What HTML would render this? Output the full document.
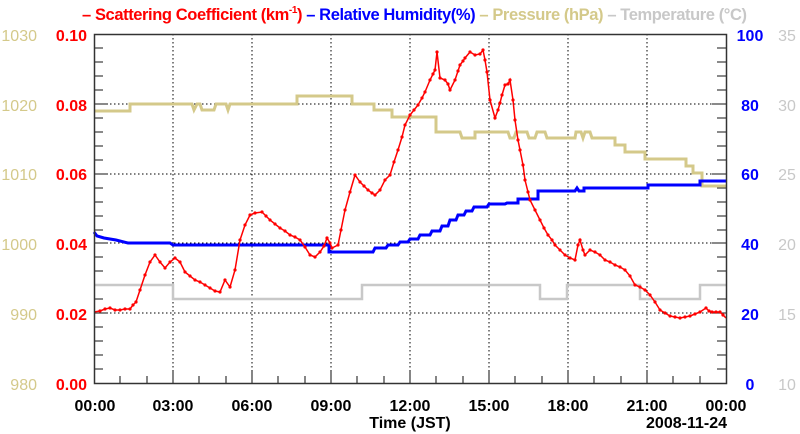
<!DOCTYPE html>
<html><head><meta charset="utf-8"><style>
html,body{margin:0;padding:0;background:#fff;}
svg{display:block;font-family:"Liberation Sans",Arial,sans-serif;}
</style></head><body>
<svg width="800" height="434" viewBox="0 0 800 434" xmlns="http://www.w3.org/2000/svg">
<defs><marker id="d" markerWidth="4" markerHeight="4" refX="2" refY="2" markerUnits="userSpaceOnUse"><circle cx="2" cy="2" r="1.6" fill="#f00"/></marker></defs>
<text y="20" font-size="16.5" font-weight="bold" x="82" textLength="665"><tspan fill="#f00">– Scattering Coefficient (km</tspan><tspan fill="#f00" font-size="10" dy="-7">-1</tspan><tspan fill="#f00" dy="7">)</tspan><tspan fill="#00f"> – Relative Humidity(%)</tspan><tspan fill="#d4c98a"> – Pressure (hPa)</tspan><tspan fill="#c8c8c8"> – Temperature (°C)</tspan></text>
<g stroke="#000" stroke-width="1" stroke-dasharray="1.5,2.5" fill="none">
<line x1="173" y1="34" x2="173" y2="383"/><line x1="252" y1="34" x2="252" y2="383"/><line x1="331" y1="34" x2="331" y2="383"/><line x1="410" y1="34" x2="410" y2="383"/><line x1="489" y1="34" x2="489" y2="383"/><line x1="568" y1="34" x2="568" y2="383"/><line x1="647" y1="34" x2="647" y2="383"/>
<line x1="94" y1="104" x2="726" y2="104"/><line x1="94" y1="174" x2="726" y2="174"/><line x1="94" y1="243" x2="726" y2="243"/><line x1="94" y1="313" x2="726" y2="313"/>
</g>
<g stroke="#444" stroke-width="1.3">
<path d="M94 48h9M94 62h9M94 76h9M94 90h9M94 118h9M94 132h9M94 146h9M94 160h9M94 188h9M94 202h9M94 216h9M94 230h9M94 257h9M94 271h9M94 285h9M94 299h9M94 327h9M94 341h9M94 355h9M94 369h9"/>
<path d="M94 104h14M94 174h14M94 243h14M94 313h14"/>
<path d="M726 48h-9M726 62h-9M726 76h-9M726 90h-9M726 118h-9M726 132h-9M726 146h-9M726 160h-9M726 188h-9M726 202h-9M726 216h-9M726 230h-9M726 257h-9M726 271h-9M726 285h-9M726 299h-9M726 327h-9M726 341h-9M726 355h-9M726 369h-9"/>
<path d="M726 104h-14M726 174h-14M726 243h-14M726 313h-14"/>
<path d="M120 383v-7M147 383v-7M199 383v-7M226 383v-7M278 383v-7M305 383v-7M357 383v-7M384 383v-7M436 383v-7M463 383v-7M515 383v-7M542 383v-7M594 383v-7M621 383v-7M673 383v-7M700 383v-7"/>
<path d="M173 383v-12M252 383v-12M331 383v-12M410 383v-12M489 383v-12M568 383v-12M647 383v-12"/>
</g>
<polyline fill="none" stroke="#c8c8c8" stroke-width="2.5" points="94,285 173,285 173,299 362,299 362,285 540,285 540,299 567,299 567,285 640,285 640,299 700,299 700,285 726,285"/>
<polyline fill="none" stroke="#d4c98a" stroke-width="3" points="94,111 130,111 130,104 192,104 194,110 197,104 200,104 202,110 214,110 216,104 226,104 228,110 230,104 297,104 297,96 352,96 352,104 374,104 374,110 392,110 392,117 436,117 436,132 460,132 462,138 475,138 475,132 508,132 510,138 514,138 516,132 527,132 529,138 535,138 537,132 545,132 547,138 575,138 576,132 581,132 583,138 585,132 590,132 592,138 615,138 615,145 625,145 625,152 645,152 645,159 686,159 686,166 693,166 693,173 702,173 702,186 726,186"/>
<polyline fill="none" stroke="#00f" stroke-width="3" points="94,232 97,236 104,238 116,240 128,243 170,243 173,245 329,245 329,252 373,252 375,248 386,248 388,245 398,245 400,242 408,242 410,239 418,239 420,235 430,235 432,231 440,231 442,226 448,226 450,220 456,220 458,215 464,215 466,211 472,211 474,207 487,207 489,204 505,204 507,203 518,203 518,199 538,199 538,191 575,191 577,188 579,191 584,191 584,188 648,188 648,185 700,185 700,181 726,181"/>
<polyline fill="none" stroke="#f00" stroke-width="1.5" marker-mid="url(#d)" points="94,312 100,311 105,309 110,308 115,310 120,310 125,309 130,309 133,305 136,302 140,290 145,275 150,262 155,255 160,262 165,268 170,262 175,258 180,262 185,272 190,276 195,280 200,282 205,285 210,288 215,291 220,292 225,280 230,287 235,270 240,240 245,225 250,215 255,213 262,212 266,216 270,220 275,224 280,228 285,231 290,235 295,237 300,240 305,247 310,255 315,257 320,252 324,246 327,238 330,243 332,248 338,245 341,230 345,210 350,192 355,175 360,182 364,186 368,190 372,193 375,195 380,190 385,180 390,175 394,162 398,150 402,137 405,125 410,115 414,110 418,105 422,98 425,92 430,80 433,74 435,70 437,52 440,78 445,80 448,84 450,90 455,80 458,71 460,65 463,61 465,58 470,52 475,55 480,54 483,50 485,60 487,72 490,100 495,118 498,110 500,103 502,95 505,85 508,84 510,80 513,100 515,120 518,140 520,150 523,165 525,180 528,192 530,200 535,210 540,220 544,228 548,235 552,240 555,245 560,250 565,255 570,258 575,260 578,245 580,240 583,250 585,255 590,250 595,252 600,255 605,260 610,262 615,265 620,267 625,270 630,276 635,285 640,287 645,290 650,295 655,302 660,310 665,313 670,316 675,317 680,318 685,317 690,316 695,314 700,312 706,308 709,311 712,312 716,312 720,312 723,315 726,318"/>
<rect x="94.5" y="34.5" width="632" height="349" fill="none" stroke="#333" stroke-width="1.5"/>
<g font-size="16" font-weight="bold" fill="#f00" text-anchor="end">
<text x="87" y="41">0.10</text><text x="87" y="111">0.08</text><text x="87" y="180">0.06</text><text x="87" y="250">0.04</text><text x="87" y="320">0.02</text><text x="87" y="390">0.00</text>
</g>
<g font-size="16" fill="#d4c98a" text-anchor="end">
<text x="37" y="41">1030</text><text x="37" y="111">1020</text><text x="37" y="180">1010</text><text x="37" y="250">1000</text><text x="37" y="320">990</text><text x="37" y="390">980</text>
</g>
<g font-size="16" font-weight="bold" fill="#00f" text-anchor="middle">
<text x="750" y="41">100</text><text x="750" y="111">80</text><text x="750" y="180">60</text><text x="750" y="250">40</text><text x="750" y="320">20</text><text x="750" y="390">0</text>
</g>
<g font-size="16" fill="#c8c8c8" text-anchor="middle">
<text x="787" y="41">35</text><text x="787" y="111">30</text><text x="787" y="180">25</text><text x="787" y="250">20</text><text x="787" y="320">15</text><text x="787" y="390">10</text>
</g>
<g font-size="16" font-weight="bold" fill="#000" text-anchor="middle">
<text x="95" y="411">00:00</text><text x="173" y="411">03:00</text><text x="252" y="411">06:00</text><text x="331" y="411">09:00</text><text x="410" y="411">12:00</text><text x="489" y="411">15:00</text><text x="568" y="411">18:00</text><text x="647" y="411">21:00</text><text x="726" y="411">00:00</text>
<text x="410" y="428">Time (JST)</text>
<text x="727" y="428" text-anchor="end">2008-11-24</text>
</g>
</svg>
</body></html>
